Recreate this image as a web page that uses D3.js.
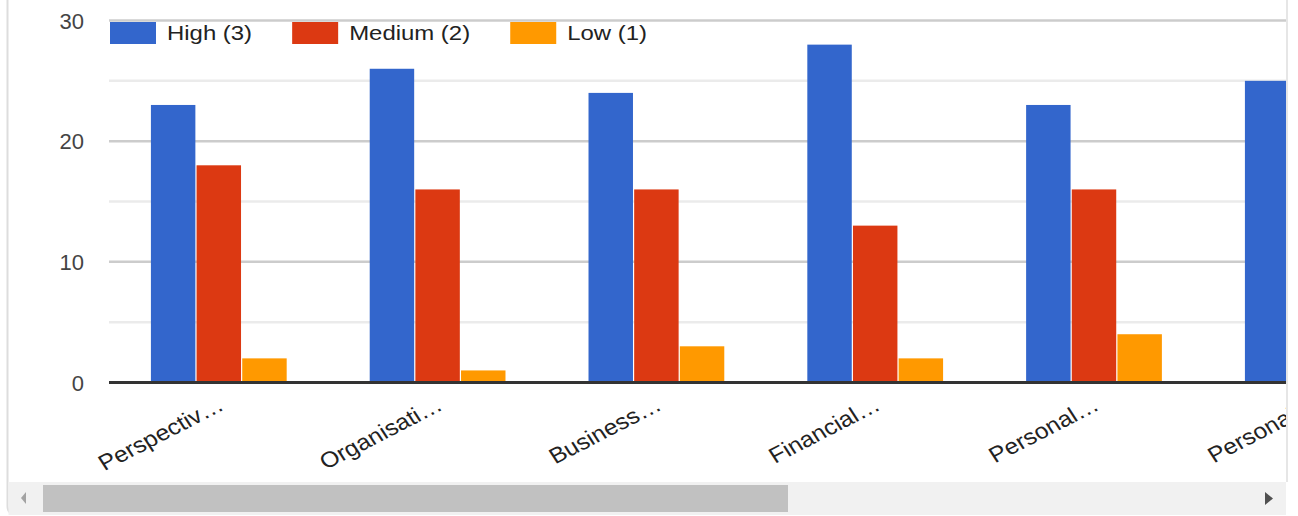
<!DOCTYPE html>
<html>
<head>
<meta charset="utf-8">
<script src="https://cdn.jsdelivr.net/npm/d3@7"></script>
<style>
  html, body { margin: 0; padding: 0; background: #fff; }
  svg { display: block; }
  text { font-family: "Liberation Sans", Arial, sans-serif; }
</style>
</head>
<body>
<svg id="chart" width="1298" height="516"></svg>
<script>
// ---- data ----
const categories = ["Perspectiv…", "Organisati…", "Business…", "Financial…", "Personal…", "Personal…"];
const categoryIds = ["c1", "c2", "c3", "c4", "c5", "c6"];
const seriesNames = ["High (3)", "Medium (2)", "Low (1)"];
const highValues = [23, 26, 24, 28, 23, 25];
const mediumValues = [18, 16, 16, 13, 16, null];
const lowValues = [2, 1, 3, 2, 4, null];
const yTicks = [0, 10, 20, 30];
const yMinorTicks = [5, 15, 25];
const colors = ["#3366cc", "#dc3912", "#ff9900"];

const seriesValues = [highValues, mediumValues, lowValues];

// ---- layout ----
const W = 1298, H = 516;
const clipRight = 1286;
const plotLeft = 109, plotTop = 20.5, plotBottom = 382.5;
const step = 218.8, pad = 0.374;

const svg = d3.select("#chart");

const defs = svg.append("defs");
defs.append("clipPath").attr("id", "clip")
  .append("rect").attr("x", 0).attr("y", 0).attr("width", clipRight).attr("height", 482);

const y = d3.scaleLinear().domain([0, 30]).range([plotBottom, plotTop]);
const x = d3.scaleBand().domain(categoryIds)
  .range([plotLeft + 1, plotLeft + 1 + categoryIds.length * step])
  .paddingInner(pad).paddingOuter(pad / 2);
const xs = d3.scaleBand().domain(seriesNames).range([0, x.bandwidth()]);

const g = svg.append("g").attr("clip-path", "url(#clip)");

// minor gridlines
g.selectAll("line.minor").data(yMinorTicks).join("line")
  .attr("x1", plotLeft).attr("x2", clipRight)
  .attr("y1", d => y(d)).attr("y2", d => y(d))
  .attr("stroke", "#ebebeb").attr("stroke-width", 2.5);

// major gridlines
g.selectAll("line.major").data(yTicks.filter(d => d !== 0)).join("line")
  .attr("x1", plotLeft).attr("x2", clipRight)
  .attr("y1", d => y(d)).attr("y2", d => y(d))
  .attr("stroke", "#cccccc").attr("stroke-width", 2.5);

// bars
const rows = [];
categoryIds.forEach((c, i) => {
  seriesNames.forEach((s, j) => {
    const v = seriesValues[j][i];
    if (v != null) rows.push({ c, s, v, j });
  });
});
g.selectAll("rect.bar").data(rows).join("rect")
  .attr("x", d => x(d.c) + xs(d.s))
  .attr("y", d => y(d.v))
  .attr("width", xs.bandwidth() - 1.2)
  .attr("height", d => y(0) - y(d.v))
  .attr("fill", d => colors[d.j]);

// zero axis line
g.append("line")
  .attr("x1", plotLeft).attr("x2", clipRight)
  .attr("y1", y(0)).attr("y2", y(0))
  .attr("stroke", "#333333").attr("stroke-width", 3);

// y tick labels
svg.selectAll("text.ytick").data(yTicks).join("text")
  .attr("x", 84).attr("y", d => y(d) + 8)
  .attr("text-anchor", "end")
  .attr("font-size", 22).attr("fill", "#444444")
  .text(d => d);

// x labels (rotated)
g.selectAll("text.xlab").data(categoryIds).join("text")
  .attr("text-anchor", "end")
  .attr("font-size", 22).attr("fill", "#222222")
  .attr("transform", d => `translate(${x(d) + x.bandwidth() / 2 + 6},${409}) scale(1.12,1) rotate(-30)`)
  .text((d, i) => categories[i]);

// legend
const legend = svg.append("g");
const sx = 1.14;
let lx = 110;
seriesNames.forEach((s, j) => {
  legend.append("rect").attr("x", lx).attr("y", 22).attr("width", 46).attr("height", 22).attr("fill", colors[j]);
  const t = legend.append("text").attr("x", lx + 57).attr("y", 40)
    .attr("font-size", 21).attr("fill", "#222222").text(s);
  const tw = t.node().getComputedTextLength();
  t.attr("transform", `translate(${(lx + 57) * (1 - sx)},0) scale(${sx},1)`);
  lx = lx + 57 + tw * sx + 40;
});

// container border
svg.append("path")
  .attr("d", `M7.5,0 V506 Q7.5,514 15,514`)
  .attr("fill", "none").attr("stroke", "#dddddd").attr("stroke-width", 2);
svg.append("line").attr("x1", 1287).attr("x2", 1287).attr("y1", 0).attr("y2", 482)
  .attr("stroke", "#e6e6e6").attr("stroke-width", 2);

// scrollbar
svg.append("rect").attr("x", 8.5).attr("y", 482).attr("width", clipRight - 8.5).attr("height", 33).attr("fill", "#f1f1f1");
svg.append("rect").attr("x", 43).attr("y", 485).attr("width", 745).attr("height", 27).attr("fill", "#c1c1c1");
svg.append("path").attr("d", "M21,498 L26,492 L26,504 Z").attr("fill", "#a3a3a3");
svg.append("path").attr("d", "M1273,498.5 L1265,492 L1265,505 Z").attr("fill", "#505050");
</script>
</body>
</html>
